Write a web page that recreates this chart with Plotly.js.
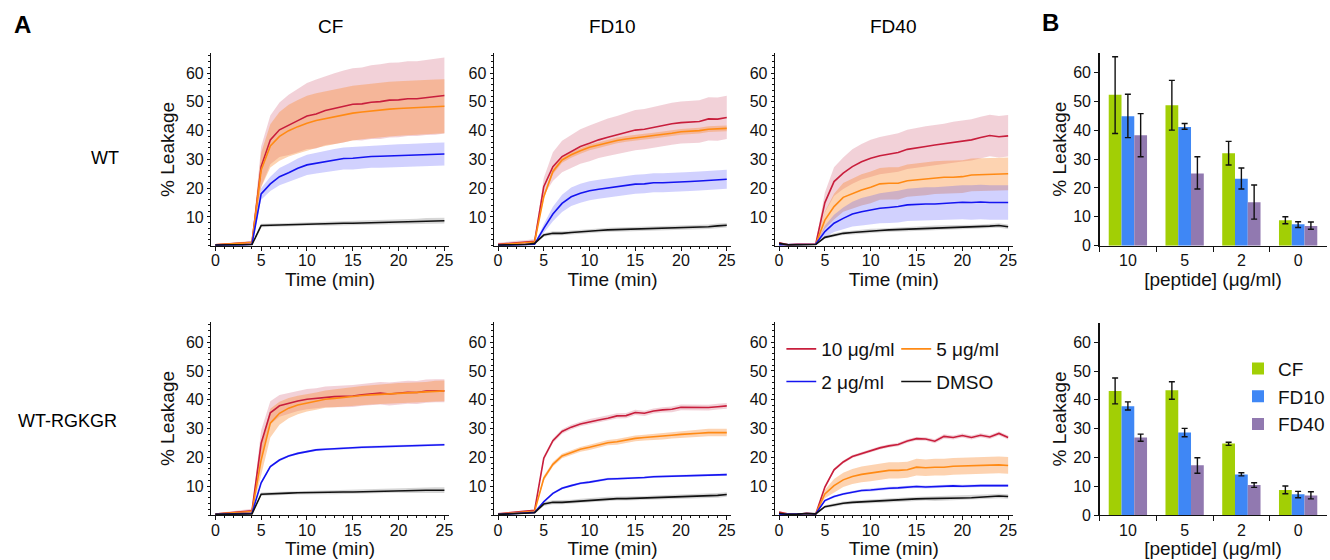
<!DOCTYPE html>
<html><head><meta charset="utf-8">
<script src="https://cdn.plot.ly/plotly-3.0.1.min.js"></script>
<style>html,body{margin:0;padding:0;background:#fff}#chart{width:1330px;height:560px}</style>
</head><body><div id="chart"></div>
<script>
// ---------- data ----------
const time = [0,1,2,3,4,5,6,7,8,9,10,11,12,13,14,15,16,17,18,19,20,21,22,23,24,25];
const seriesNames = ['10 μg/ml','5 μg/ml','2 μg/ml','DMSO'];
const panelTitles = ['CF','FD10','FD40'];
const rowLabels = ['WT','WT-RGKGR'];

// WT / CF
const wtCF_10   = [0.3,0.5,0.8,1.0,1.2,27.5,36.8,40.3,42.0,43.5,45.1,45.8,47.0,47.7,48.4,49.2,49.3,49.9,50.1,50.6,50.7,51.1,51.1,51.5,51.8,52.2];
const wtCF_10sd = [0.3,0.3,0.4,0.4,0.5,7,8.5,9.5,10.5,11,11.5,12,12,12.3,12.5,12.5,12.7,12.8,13,13,13,13,13,13,13.2,13.2];
const wtCF_5    = [0.3,0.5,0.7,0.9,1.1,26.3,34.7,38.0,40.0,41.4,42.6,43.5,44.2,44.9,45.5,46.1,46.5,46.9,47.2,47.5,47.7,47.9,48.0,48.2,48.4,48.5];
const wtCF_5sd  = [0.2,0.2,0.3,0.3,0.4,6,7.5,8.5,9,9.3,9.5,9.5,9.5,9.5,9.5,9.5,9.5,9.5,9.5,9.5,9.5,9.5,9.4,9.4,9.4,9.4];
const wtCF_2    = [0.2,0.2,0.3,0.3,0.5,18.0,21.5,24.0,25.4,26.9,28.1,28.7,29.2,29.8,30.3,30.4,30.8,31.0,31.1,31.2,31.3,31.4,31.6,31.7,31.8,31.9];
const wtCF_2sd  = [0.1,0.1,0.1,0.1,0.2,2,2.5,3,3.2,3.4,3.5,3.6,3.7,3.8,3.8,3.9,3.9,3.9,4,4,4,4,4,4,4,4];
const wtCF_0    = [0.2,0.2,0.2,0.3,0.4,7.0,7.1,7.2,7.3,7.5,7.6,7.6,7.6,7.7,7.8,7.8,7.9,8.0,8.1,8.2,8.3,8.4,8.5,8.6,8.6,8.7];
const wtCF_0sd  = [0.1,0.1,0.1,0.1,0.2,0.6,0.6,0.6,0.6,0.6,0.6,0.6,0.7,0.7,0.7,0.7,0.7,0.8,0.8,0.8,0.8,0.9,0.9,1,1,1];

// WT / FD10
const wtFD10_10   = [0.5,0.8,1.0,1.2,1.5,20.5,27.5,31.0,32.7,34.5,35.6,36.8,37.7,38.5,39.3,40.2,40.5,41.2,41.7,42.4,42.8,43.0,43.2,44.1,44.0,44.6];
const wtFD10_10sd = [0.5,0.6,0.7,0.7,0.8,3,5,5.5,5.8,6,6.2,6.3,6.5,6.6,6.8,7,7,7.1,7.2,7.3,7.3,7.4,7.4,7.5,7.5,7.5];
const wtFD10_5    = [0.3,0.6,0.8,1.0,1.3,17.0,25.8,29.8,31.6,33.0,34.2,35.0,35.9,36.6,37.1,37.6,37.9,38.3,38.6,39.1,39.6,39.8,40.0,40.5,40.7,40.8];
const wtFD10_5sd  = [0.2,0.2,0.3,0.3,0.3,0.8,1,1,1,1,1,1,1,1,1,1,1,1,1,1,1,1,1,1,1,1];
const wtFD10_2    = [0.1,0.2,0.3,0.4,0.5,6.0,11.0,14.7,17.0,18.2,19.1,19.6,20.0,20.5,21.0,21.4,21.5,21.9,21.9,22.0,22.0,22.3,22.5,22.7,23.1,23.1];
const wtFD10_2sd  = [0.1,0.1,0.1,0.1,0.2,1.5,2.5,3,3.2,3.3,3.3,3.3,3.3,3.3,3.3,3.3,3.3,3.3,3.3,3.3,3.3,3.3,3.3,3.3,3.3,3.3];
const wtFD10_0    = [0.2,0.2,0.3,0.4,0.8,3.7,4.3,4.3,4.6,4.9,5.1,5.3,5.5,5.6,5.6,5.7,5.8,5.9,6.0,6.2,6.3,6.4,6.5,6.6,6.9,7.1];
const wtFD10_0sd  = [0.1,0.1,0.1,0.1,0.2,0.6,0.7,0.7,0.7,0.7,0.7,0.7,0.7,0.7,0.7,0.7,0.7,0.8,0.8,0.8,0.8,0.8,0.8,0.8,0.8,0.8];

// WT / FD40
const wtFD40_10   = [1.0,0.3,0.5,0.5,0.5,15.0,22.3,25.2,27.5,29.2,30.4,31.3,31.9,32.4,33.5,34.1,34.5,35.0,35.4,36.0,36.4,36.8,37.6,38.3,37.9,38.2];
const wtFD40_10sd = [0.3,0.3,0.4,0.3,0.3,3.5,5,5.5,6,6.2,6.4,6.5,6.6,6.7,6.8,6.9,7,7,7,7.1,7.1,7.2,7.2,7.2,7.2,7.2];
const wtFD40_5    = [0.5,0.3,0.4,0.5,0.5,8.9,13.6,16.8,18.2,19.4,20.3,21.5,21.7,21.7,22.6,22.9,23.2,23.7,23.8,23.8,24.0,24.6,24.7,24.7,24.8,25.0];
const wtFD40_5sd  = [0.2,0.2,0.2,0.2,0.2,3,4.5,5,5.2,5.4,5.5,5.5,5.6,5.6,5.6,5.7,5.7,5.7,5.7,5.7,5.7,5.7,5.7,5.7,5.7,5.7];
const wtFD40_2    = [0.3,0.3,0.3,0.4,0.5,4.9,7.8,9.5,11.0,11.8,12.4,13.0,13.3,13.6,14.2,14.4,14.5,14.5,14.7,15.0,15.1,15.0,15.2,15.0,15.0,15.0];
const wtFD40_2sd  = [0.1,0.1,0.1,0.1,0.2,2,3,3.8,4.3,4.8,5,5.2,5.4,5.5,5.6,5.7,5.8,5.8,5.9,5.9,5.9,6,6,6,6,6];
const wtFD40_0    = [0.8,0.3,0.3,0.4,0.4,2.9,3.7,4.3,4.6,4.9,5.2,5.3,5.5,5.6,5.8,6.0,6.1,6.2,6.3,6.3,6.4,6.5,6.6,6.8,7.0,6.6];
const wtFD40_0sd  = [0.1,0.1,0.1,0.1,0.1,0.5,0.6,0.6,0.7,0.7,0.7,0.7,0.7,0.7,0.7,0.7,0.7,0.8,0.8,0.8,0.8,0.8,0.8,0.8,0.8,0.8];

// WT-RGKGR / CF
const rgCF_10   = [0.3,0.6,0.9,1.2,1.5,24.9,35.5,37.9,38.8,39.6,40.2,40.5,41.0,41.1,41.2,41.3,41.7,42.0,42.3,42.0,42.3,42.6,42.5,43.0,43.1,43.1];
const rgCF_10sd = [0.3,0.4,0.5,0.6,0.7,4.5,4,3.8,3.6,3.5,3.5,3.5,3.6,3.7,3.7,3.8,3.8,3.9,3.9,4,4,4,4,4,4,4];
const rgCF_5    = [0.3,0.5,0.8,1.0,1.2,19.1,31.9,35.3,37.1,38.2,38.9,39.5,40.2,40.5,40.9,41.1,41.5,41.7,41.9,42.0,42.3,42.4,42.5,42.7,43.0,43.1];
const rgCF_5sd  = [0.2,0.3,0.3,0.4,0.4,5.5,5,4,3.5,3.2,3,3,3,3.1,3.2,3.2,3.3,3.3,3.4,3.4,3.5,3.5,3.5,3.5,3.6,3.6];
const rgCF_2    = [0.2,0.3,0.4,0.5,0.6,11.2,16.8,19.1,20.5,21.4,22.0,22.6,22.8,23.0,23.3,23.4,23.5,23.6,23.7,23.9,23.9,24.0,24.1,24.2,24.3,24.4];
const rgCF_2sd  = [0.1,0.1,0.1,0.1,0.1,0.4,0.4,0.4,0.4,0.4,0.4,0.4,0.4,0.4,0.4,0.4,0.4,0.4,0.4,0.4,0.4,0.4,0.4,0.4,0.4,0.4];
const rgCF_0    = [0.2,0.2,0.3,0.3,0.4,7.2,7.4,7.5,7.6,7.7,7.8,7.8,7.9,7.9,8.0,8.0,8.1,8.2,8.3,8.4,8.5,8.5,8.5,8.6,8.6,8.6];
const rgCF_0sd  = [0.1,0.1,0.1,0.1,0.2,0.6,0.6,0.6,0.6,0.6,0.6,0.7,0.7,0.7,0.7,0.7,0.7,0.8,0.8,0.8,0.8,0.9,0.9,1,1,1];

// WT-RGKGR / FD10
const rgFD10_10   = [0.4,0.7,1.0,1.3,1.6,19.7,25.8,29.0,30.5,31.6,32.4,33.0,33.6,34.4,34.5,35.6,35.3,36.1,36.5,36.7,37.4,37.4,37.2,37.3,37.6,37.9];
const rgFD10_10sd = [0.2,0.2,0.3,0.3,0.3,0.8,0.8,0.8,0.8,0.8,0.9,0.9,0.9,0.9,0.9,0.9,0.9,0.9,0.9,1,1,1,1,1,1,1];
const rgFD10_5    = [0.3,0.5,0.8,1.0,1.3,12.7,17.6,20.5,21.7,22.8,23.5,24.3,25.1,25.4,26.1,26.6,26.9,27.1,27.3,27.7,28.0,28.1,28.4,28.6,28.6,28.6];
const rgFD10_5sd  = [0.2,0.2,0.2,0.2,0.2,0.8,0.8,0.8,0.8,0.8,0.9,0.9,0.9,1,1,1,1,1.1,1.1,1.1,1.2,1.2,1.2,1.3,1.3,1.3];
const rgFD10_2    = [0.2,0.3,0.5,0.7,0.9,4.6,7.5,9.3,10.2,11.0,11.4,11.9,12.5,12.6,12.7,13.0,13.0,13.3,13.4,13.4,13.6,13.7,13.9,14.0,14.1,14.0];
const rgFD10_2sd  = [0.1,0.1,0.1,0.1,0.1,0.4,0.4,0.4,0.4,0.4,0.4,0.4,0.4,0.4,0.4,0.4,0.4,0.4,0.4,0.4,0.4,0.4,0.4,0.4,0.4,0.4];
const rgFD10_0    = [0.2,0.3,0.4,0.6,0.8,3.8,4.4,4.4,4.6,4.9,5.2,5.4,5.6,5.7,5.7,5.8,5.9,6.0,6.1,6.2,6.4,6.4,6.4,6.6,6.8,7.1];
const rgFD10_0sd  = [0.1,0.1,0.1,0.1,0.2,0.7,0.7,0.7,0.7,0.7,0.7,0.7,0.7,0.7,0.7,0.7,0.7,0.8,0.8,0.8,0.8,0.8,0.8,0.8,0.8,0.8];

// WT-RGKGR / FD40
const rgFD40_10   = [1.0,0.3,0.2,0.6,0.3,9.7,15.7,18.4,20.3,21.3,22.4,23.3,24.0,24.5,25.7,26.5,26.4,25.6,27.3,26.9,27.6,26.9,27.7,27.1,28.3,26.9];
const rgFD40_10sd = [0.2,0.2,0.2,0.2,0.2,0.5,0.5,0.5,0.5,0.5,0.6,0.6,0.6,0.6,0.6,0.6,0.6,0.7,0.7,0.7,0.7,0.7,0.7,0.7,0.7,0.7];
const rgFD40_5    = [0.5,0.3,0.3,0.5,0.4,7.3,10.2,12.2,13.4,14.1,14.5,15.1,15.5,15.5,15.7,16.6,16.4,16.6,16.6,16.9,17.0,17.1,17.1,17.2,17.4,17.2];
const rgFD40_5sd  = [0.2,0.2,0.2,0.2,0.2,1.5,2.3,2.5,2.6,2.7,2.8,2.8,2.8,2.8,2.8,2.9,2.9,2.9,2.9,2.9,2.9,2.9,2.9,2.9,2.9,2.9];
const rgFD40_2    = [0.3,0.2,0.3,0.5,0.4,5.0,6.4,7.3,7.9,8.5,8.7,9.1,9.3,9.4,9.7,9.9,9.7,9.9,9.9,10.1,10.0,10.2,10.2,10.2,10.2,10.2];
const rgFD40_2sd  = [0.1,0.1,0.1,0.1,0.1,0.4,0.4,0.4,0.4,0.4,0.5,0.5,0.5,0.5,0.5,0.5,0.5,0.5,0.5,0.5,0.5,0.5,0.5,0.5,0.5,0.5];
const rgFD40_0    = [0.6,0.2,0.3,0.5,0.4,2.9,3.5,4.1,4.4,4.6,4.8,4.9,5.0,5.2,5.4,5.6,5.7,5.7,5.8,5.9,5.9,6.0,6.2,6.4,6.6,6.4];
const rgFD40_0sd  = [0.1,0.1,0.1,0.1,0.1,0.5,0.6,0.6,0.6,0.6,0.7,0.7,0.7,0.7,0.7,0.7,0.7,0.8,0.8,0.8,0.8,0.8,0.8,0.8,0.8,0.8];

// Panel B: endpoint bar charts (value, upper and lower error limits)
const peptideLabels = ['10','5','2','0'];
const dyeNames = ['CF','FD10','FD40'];
const barWT_CF     = [52.2,48.6,32.0,8.8];
const barWT_CF_hi  = [65.4,57.2,36.1,10.0];
const barWT_CF_lo  = [38.8,40.0,27.9,7.6];
const barWT_FD10    = [44.8,41.1,23.2,7.4];
const barWT_FD10_hi = [52.4,42.3,26.9,8.3];
const barWT_FD10_lo = [37.4,40.3,19.6,6.3];
const barWT_FD40    = [38.2,25.0,15.0,6.8];
const barWT_FD40_hi = [45.7,30.8,21.0,8.2];
const barWT_FD40_lo = [30.8,19.6,9.2,5.7];
const barRG_CF     = [43.1,43.3,24.8,8.7];
const barRG_CF_hi  = [47.6,46.3,25.3,10.1];
const barRG_CF_lo  = [38.6,40.2,24.2,7.4];
const barRG_FD10    = [37.8,28.7,14.1,7.2];
const barRG_FD10_hi = [39.3,30.1,14.7,8.2];
const barRG_FD10_lo = [36.5,27.2,13.6,6.0];
const barRG_FD40    = [26.9,17.3,10.4,6.8];
const barRG_FD40_hi = [28.1,19.9,11.2,8.1];
const barRG_FD40_lo = [25.6,14.5,9.6,5.6];

// ---------- build ----------
const W = 1330, H = 560;
const FONT = 'Liberation Sans, Arial, sans-serif';
const TXT = '#111111';
const lineColors = ['#c81e3c','#ff8a14','#1414f0','#111111'];
const bandColors = ['rgba(205,70,100,0.25)','rgba(250,140,50,0.38)','rgba(70,70,250,0.25)','rgba(0,0,0,0.16)'];
const barColors = ['#a2cf05','#3f87f5','#9179b0'];

const panels = [
  {row:0,col:0,m:[wtCF_10,wtCF_5,wtCF_2,wtCF_0],s:[wtCF_10sd,wtCF_5sd,wtCF_2sd,wtCF_0sd]},
  {row:0,col:1,m:[wtFD10_10,wtFD10_5,wtFD10_2,wtFD10_0],s:[wtFD10_10sd,wtFD10_5sd,wtFD10_2sd,wtFD10_0sd]},
  {row:0,col:2,m:[wtFD40_10,wtFD40_5,wtFD40_2,wtFD40_0],s:[wtFD40_10sd,wtFD40_5sd,wtFD40_2sd,wtFD40_0sd]},
  {row:1,col:0,m:[rgCF_10,rgCF_5,rgCF_2,rgCF_0],s:[rgCF_10sd,rgCF_5sd,rgCF_2sd,rgCF_0sd]},
  {row:1,col:1,m:[rgFD10_10,rgFD10_5,rgFD10_2,rgFD10_0],s:[rgFD10_10sd,rgFD10_5sd,rgFD10_2sd,rgFD10_0sd]},
  {row:1,col:2,m:[rgFD40_10,rgFD40_5,rgFD40_2,rgFD40_0],s:[rgFD40_10sd,rgFD40_5sd,rgFD40_2sd,rgFD40_0sd]}
];
const colX = [[211.7,450],[495,733],[776.7,1015]];
const rowY = [[53,245.7],[322,515]];
const xd = (a,b)=>[a/W,b/W];
const yd = (top,bottom)=>[1-bottom/H,1-top/H];

const traces = [];
const layout = {
  width:W, height:H, margin:{l:0,r:0,t:0,b:0},
  paper_bgcolor:'#fff', plot_bgcolor:'rgba(0,0,0,0)',
  font:{family:FONT,color:TXT,size:16},
  showlegend:true, annotations:[]
};

panels.forEach((p,i)=>{
  const k = i+1, sfx = k===1?'':String(k);
  const xa = 'x'+sfx, ya = 'y'+sfx;
  // bands
  p.m.forEach((mean,j)=>{
    const sd = p.s[j];
    traces.push({type:'scatter',mode:'lines',x:time,y:mean.map((v,t)=>v-sd[t]),xaxis:xa,yaxis:ya,
      line:{width:0,color:bandColors[j]},showlegend:false,hoverinfo:'skip'});
    traces.push({type:'scatter',mode:'lines',x:time,y:mean.map((v,t)=>v+sd[t]),xaxis:xa,yaxis:ya,
      line:{width:0,color:bandColors[j]},fill:'tonexty',fillcolor:bandColors[j],showlegend:false,hoverinfo:'skip'});
  });
  // mean lines
  p.m.forEach((mean,j)=>{
    traces.push({type:'scatter',mode:'lines',x:time,y:mean,xaxis:xa,yaxis:ya,name:seriesNames[j],
      line:{width:1.6,color:lineColors[j]},
      showlegend:k===6, legend: j<2 ? 'legend' : 'legend2'});
  });
  layout['xaxis'+sfx] = {
    domain:xd(colX[p.col][0],colX[p.col][1]), anchor:ya, range:[-0.45,25.5],
    tickmode:'linear', tick0:0, dtick:5, ticks:'outside', ticklen:4, tickwidth:1, tickcolor:TXT,
    minor:{tickmode:'linear',tick0:0,dtick:1,ticks:'outside',ticklen:2,tickcolor:TXT},
    showline:true, linecolor:TXT, linewidth:1.3, showgrid:false, zeroline:false,
    tickfont:{size:16,family:FONT,color:TXT}, ticklabelstandoff:-4,
    title:{text:'Time (min)',font:{size:19,family:FONT,color:TXT},standoff:0},
    fixedrange:true
  };
  layout['yaxis'+sfx] = {
    domain:yd(rowY[p.row][0],rowY[p.row][1]), anchor:xa, range:[0,67],
    tickmode:'array', tickvals:[10,20,30,40,50,60], ticks:'outside', ticklen:3, tickwidth:1, tickcolor:TXT,
    minor:{tickmode:'linear',tick0:0,dtick:2,ticks:'outside',ticklen:2,tickcolor:TXT},
    showline:true, linecolor:TXT, linewidth:1.3, showgrid:false, zeroline:false,
    tickfont:{size:16,family:FONT,color:TXT},
    title:{text: p.col===0 ? '% Leakage' : '', font:{size:19,family:FONT,color:TXT},standoff:6},
    fixedrange:true
  };
});

// bar charts
const barSets = [
  {k:7,top:52.7,bottom:245.7,vals:[barWT_CF,barWT_FD10,barWT_FD40],hi:[barWT_CF_hi,barWT_FD10_hi,barWT_FD40_hi],lo:[barWT_CF_lo,barWT_FD10_lo,barWT_FD40_lo]},
  {k:8,top:323,bottom:515,vals:[barRG_CF,barRG_FD10,barRG_FD40],hi:[barRG_CF_hi,barRG_FD10_hi,barRG_FD40_hi],lo:[barRG_CF_lo,barRG_FD10_lo,barRG_FD40_lo]}
];
barSets.forEach(b=>{
  const xa='x'+b.k, ya='y'+b.k;
  b.vals.forEach((v,j)=>{
    traces.push({type:'bar',x:peptideLabels,y:v,xaxis:xa,yaxis:ya,name:dyeNames[j],
      marker:{color:barColors[j],line:{width:0}},
      error_y:{type:'data',symmetric:false,array:b.hi[j].map((h,q)=>h-v[q]),arrayminus:v.map((x,q)=>x-b.lo[j][q]),
        color:'#111',thickness:1.4,width:3},
      showlegend:b.k===8, legend:'legend3', hoverinfo:'x+y'});
  });
  const range = (b.bottom-b.top)/((b.k===7? (245.7-72.3):(515-342.3))/60);
  layout['xaxis'+b.k] = {
    domain:xd(1102,1329.5), anchor:ya, type:'category',
    ticks:'outside', tickson:'boundaries', ticklen:5, tickwidth:1, tickcolor:TXT,
    showline:true, linecolor:TXT, linewidth:1.3, showgrid:false, zeroline:false,
    tickfont:{size:16,family:FONT,color:TXT},
    title:{text:'[peptide] (μg/ml)',font:{size:19,family:FONT,color:TXT},standoff:2},
    fixedrange:true
  };
  layout['yaxis'+b.k] = {
    domain:yd(b.top,b.bottom), anchor:xa, range:[0,range],
    tickmode:'linear', tick0:0, dtick:10, ticks:'outside', ticklen:4, tickwidth:1, tickcolor:TXT,
    showline:true, linecolor:TXT, linewidth:1.3, showgrid:false, zeroline:false,
    tickfont:{size:16,family:FONT,color:TXT},
    title:{text:'% Leakage',font:{size:19,family:FONT,color:TXT},standoff:1},
    fixedrange:true
  };
});
layout.barmode = 'group';
layout.bargap = 0.325;
layout.bargroupgap = 0;

// legends
const legFont = {size:19,family:FONT,color:TXT};
layout.legend  = {orientation:'h', traceorder:'normal', x:788/W, xanchor:'left', y:1-349/H, yanchor:'middle', font:legFont,
  entrywidth:75, entrywidthmode:'pixels', itemwidth:30, indentation:-5, bgcolor:'rgba(0,0,0,0)', borderwidth:0};
layout.legend2 = {orientation:'h', traceorder:'normal', x:788/W, xanchor:'left', y:1-381.7/H, yanchor:'middle', font:legFont,
  entrywidth:75, entrywidthmode:'pixels', itemwidth:30, indentation:-5, bgcolor:'rgba(0,0,0,0)', borderwidth:0};
layout.legend3 = {orientation:'v', traceorder:'normal', x:1251/W, xanchor:'left', y:1-396.7/H, yanchor:'middle', font:legFont,
  itemwidth:30, indentation:-10, bgcolor:'rgba(0,0,0,0)', borderwidth:0, tracegroupgap:0};

// annotations (panel letters, column and row labels)
const ann = (text,x,y,size,bold)=>({text: bold?'<b>'+text+'</b>':text, x:x/W, y:1-y/H, xref:'paper', yref:'paper',
  xanchor:'center', yanchor:'middle', showarrow:false, font:{size:size,family:FONT,color:'#000'}});
layout.annotations.push(ann('A',23,25,24,true));
layout.annotations.push(ann('B',1053,23,24,true));
const colCenters = [331,613,895];
panelTitles.forEach((t,i)=>layout.annotations.push(ann(t,colCenters[i],26,19,false)));
layout.annotations.push(ann(rowLabels[0],105,158,18,false));
layout.annotations.push(ann(rowLabels[1],67.5,421,18,false));

Plotly.newPlot('chart', traces, layout, {staticPlot:true, displayModeBar:false});
</script>
</body></html>
